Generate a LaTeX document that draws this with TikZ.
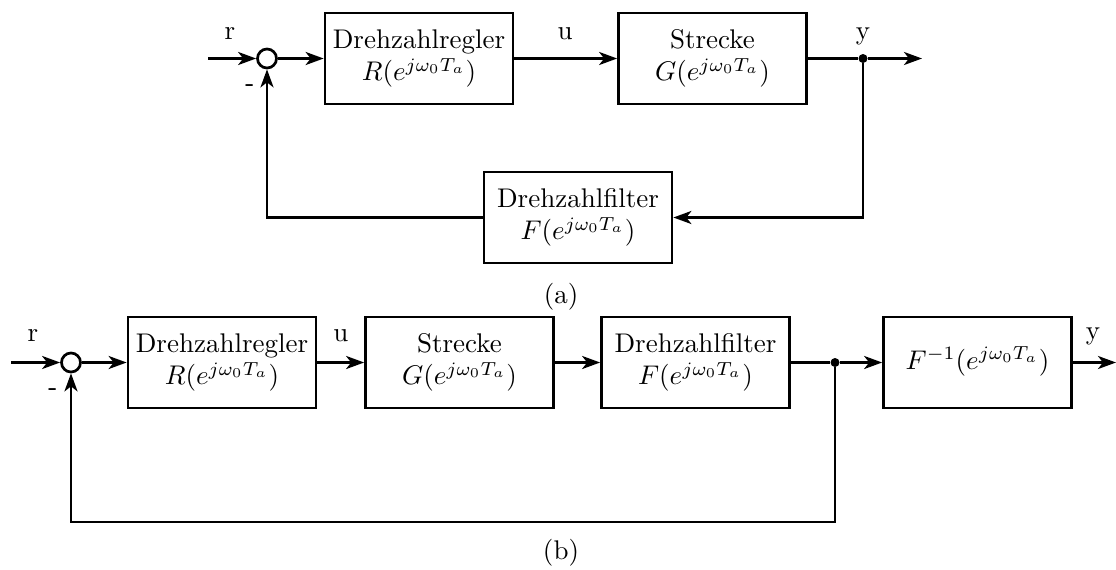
\documentclass[tikz,border=0pt]{standalone}
\usetikzlibrary{arrows.meta}
% text is set at 10pt and enlarged, keeping the 10pt design size
\newcommand\lab[1]{\scalebox{2.7}{\fontsize{10}{11.6}\selectfont\begin{tabular}{@{}c@{}}#1\end{tabular}}}
\begin{document}
\begin{tikzpicture}[x=1pt,y=-1pt,
  wire/.style={line width=2.7pt},
  flow/.style={wire,-{Stealth[length=18pt,width=13pt,inset=5pt]}},
  block/.style={draw,line width=2.7pt,minimum width=188pt,minimum height=91pt,align=center,inner sep=0pt},
  summer/.style={draw,circle,line width=2.7pt,minimum size=19pt,inner sep=0pt},
  junction/.style={circle,fill,minimum size=9pt,inner sep=0pt},
  minus/.style={font=\fontsize{26}{31}\sffamily\bfseries,inner sep=0pt},
  lbl/.style={inner sep=0pt}]
\useasboundingbox (0,0) rectangle (1116,570);

% ---- (a) loop with the filter in the feedback path
\coordinate (ina) at (208,58.5);
\node[summer] (suma) at (267,58.5) {};
\node[block] (rega) at (419,58.5) {\lab{Drehzahlregler\\$R(e^{j\omega_0 T_a})$}};
\node[block] (plta) at (712.5,58.5) {\lab{Strecke\\$G(e^{j\omega_0 T_a})$}};
\node[junction] (dota) at (863,58.5) {};
\coordinate (outa) at (922,58.5);
\node[block] (fila) at (578,217.5) {\lab{Drehzahlfilter\\$F(e^{j\omega_0 T_a})$}};

\draw[flow] (ina) -- (suma);
\draw[flow] (suma) -- (rega);
\draw[flow] (rega) -- (plta);
\draw[wire] (plta) -- (dota);
\draw[flow] (dota) -- (outa);
\draw[flow] (dota) |- (fila);
\draw[flow] (fila) -| (suma);

\node[lbl] at (230,33) {\lab{r}};
\node[lbl] at (565,33) {\lab{u}};
\node[lbl] at (863,33) {\lab{y}};
\node[minus] at (250,88) {-};
\node[lbl] at (561,297) {\lab{(a)}};

% ---- (b) loop with the filter in the forward path
\coordinate (inb) at (11,362.5);
\node[summer] (sumb) at (71,362.5) {};
\node[block] (regb) at (222,362.5) {\lab{Drehzahlregler\\$R(e^{j\omega_0 T_a})$}};
\node[block] (pltb) at (459.5,362.5) {\lab{Strecke\\$G(e^{j\omega_0 T_a})$}};
\node[block] (filb) at (695.5,362.5) {\lab{Drehzahlfilter\\$F(e^{j\omega_0 T_a})$}};
\node[junction] (dotb) at (835,362.5) {};
\node[block] (invb) at (977.5,362.5) {\lab{$F^{-1}(e^{j\omega_0 T_a})$}};
\coordinate (outb) at (1116,362.5);
\coordinate (fbb) at (835,522);

\draw[flow] (inb) -- (sumb);
\draw[flow] (sumb) -- (regb);
\draw[flow] (regb) -- (pltb);
\draw[flow] (pltb) -- (filb);
\draw[wire] (filb) -- (dotb);
\draw[flow] (dotb) -- (invb);
\draw[flow] (invb) -- (outb);
\draw[flow] (dotb) -- (fbb) -| (sumb);

\node[lbl] at (33,335) {\lab{r}};
\node[lbl] at (341,335) {\lab{u}};
\node[lbl] at (1093,333) {\lab{y}};
\node[minus] at (53,392) {-};
\node[lbl] at (561,553) {\lab{(b)}};
\end{tikzpicture}
\end{document}
